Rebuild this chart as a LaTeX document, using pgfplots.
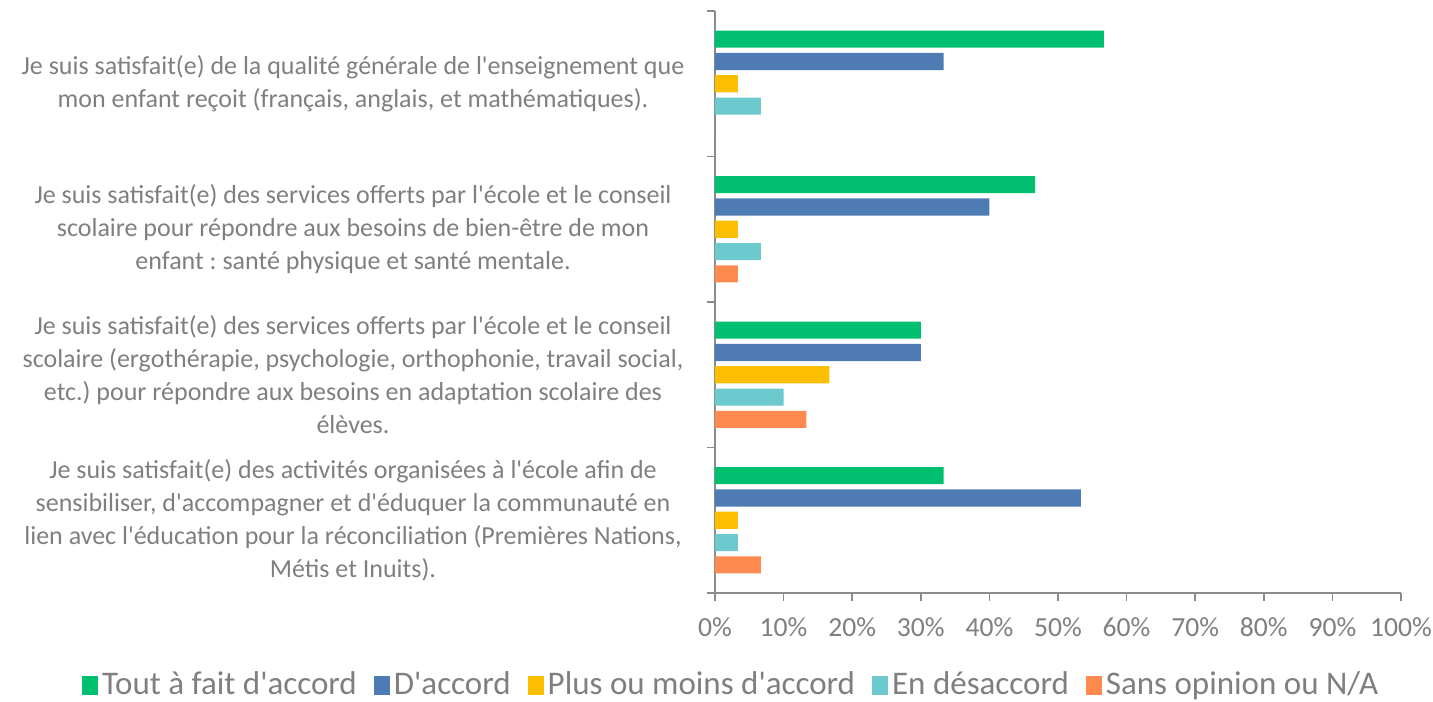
\documentclass[border=0pt]{standalone}
\usepackage{pgfplots}
\usepackage{pgfplotstable}
\pgfplotsset{compat=1.18}
\usepackage{fontspec}
\setmainfont{Carlito}[Ligatures=TeXOff]
\frenchspacing
\definecolor{cgreen}{HTML}{00BF6F}
\definecolor{cblue}{HTML}{4F7BB4}
\definecolor{cyellow}{HTML}{FBBE00}
\definecolor{cteal}{HTML}{6CC9CE}
\definecolor{corange}{HTML}{FF8A50}
\definecolor{txt}{HTML}{7F7F7F}
\definecolor{axl}{HTML}{8C8C8C}
\pgfplotstableread{
cat green blue yellow teal orange
0 56.67 33.33 3.33 6.67 0
1 46.67 40.00 3.33 6.67 3.33
2 30.00 30.00 16.67 10.00 13.33
3 33.33 53.33 3.33 3.33 6.67
}\datatable
\begin{document}
\begin{tikzpicture}
\begin{axis}[
  scale only axis,
  width=343pt, height=291pt,
  xbar, bar width=0.117,
  y dir=reverse,
  xmin=0, xmax=100, ymin=-0.5, ymax=3.5,
  axis x line*=bottom, axis y line*=left,
  axis line style={axl, line width=0.9pt},
  tick align=outside,
  xtick={0,10,...,100},
  xticklabel={\pgfmathprintnumber{\tick}\%},
  /pgf/number format/assume math mode=true,
  x tick style={axl, line width=0.8pt},
  major tick length=4pt,
  xticklabel style={font=\fontsize{13.8}{16}\selectfont, text=txt, yshift=-5pt},
  ytick={0,1,2,3},
  major y tick style={draw=none},
  minor ytick={-0.5,0.5,1.5,2.5,3.5},
  minor y tick style={axl, line width=0.8pt},
  minor tick length=4pt,
  yticklabels={
    {Je suis satisfait(e) de la qualité générale de l'enseignement que\\mon enfant reçoit (français, anglais, et mathématiques).},
    {Je suis satisfait(e) des services offerts par l'école et le conseil\\scolaire pour répondre aux besoins de bien-être de mon\\enfant : santé physique et santé mentale.},
    {Je suis satisfait(e) des services offerts par l'école et le conseil\\scolaire (ergothérapie, psychologie, orthophonie, travail social,\\etc.) pour répondre aux besoins en adaptation scolaire des\\élèves.},
    {Je suis satisfait(e) des activités organisées à l'école afin de\\sensibiliser, d'accompagner et d'éduquer la communauté en\\lien avec l'éducation pour la réconciliation (Premières Nations,\\Métis et Inuits).}
  },
  yticklabel style={font=\fontsize{13}{16.5}\selectfont, text=txt, align=center, inner sep=0pt, anchor=center, xshift=-177pt},
  legend style={at={(rel axis cs:0.025,-0.158)}, anchor=center, draw=none, legend columns=-1,
    font=\fontsize{16.5}{19}\selectfont, text=txt,
    /tikz/every even column/.append style={column sep=6.5pt}},
  legend image code/.code={\fill[#1] (0pt,-5pt) rectangle (8pt,4.5pt);},
  clip=false,
]
\addplot[fill=cgreen, draw=none, bar shift=-0.306] table[x=green, y=cat] {\datatable};
\addplot[fill=cblue, draw=none, bar shift=-0.153] table[x=blue, y=cat] {\datatable};
\addplot[fill=cyellow, draw=none, bar shift=0] table[x=yellow, y=cat] {\datatable};
\addplot[fill=cteal, draw=none, bar shift=0.153] table[x=teal, y=cat] {\datatable};
\addplot[fill=corange, draw=none, bar shift=0.306] table[x=orange, y=cat] {\datatable};
\legend{Tout à fait d'accord, D'accord, Plus ou moins d'accord, En désaccord, Sans opinion ou N/A}
\coordinate (bl) at (rel axis cs:0,0);
\coordinate (tr) at (rel axis cs:1,1);
\end{axis}
\pgfresetboundingbox
\path ([xshift=-357.5pt,yshift=-54pt]bl) rectangle ([xshift=16pt,yshift=5.5pt]tr);
\end{tikzpicture}
\end{document}
